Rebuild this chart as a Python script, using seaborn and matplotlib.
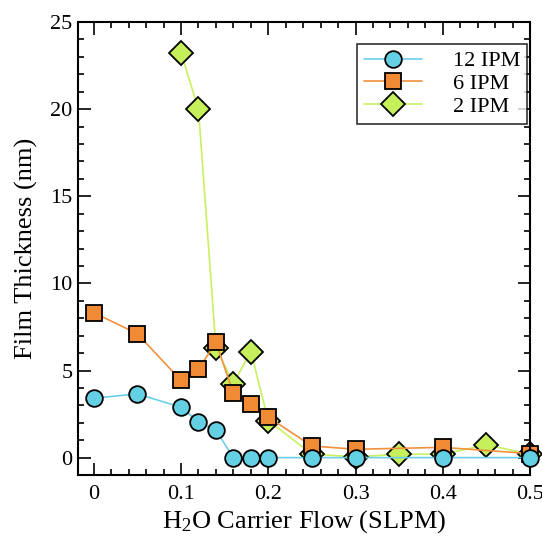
import matplotlib
matplotlib.use("Agg")
import matplotlib.pyplot as plt
from matplotlib.ticker import MultipleLocator
import seaborn as sns
import pandas as pd

# Film thickness vs. H2O carrier flow for three substrate speeds
flow_12 = [0.0, 0.05, 0.10, 0.12, 0.14, 0.16, 0.18, 0.20, 0.25, 0.30, 0.40, 0.50]
thick_12 = [3.41, 3.66, 2.89, 2.05, 1.57, 0.0, 0.0, 0.0, 0.0, 0.0, 0.0, 0.0]

flow_6 = [0.0, 0.05, 0.10, 0.12, 0.14, 0.16, 0.18, 0.20, 0.25, 0.30, 0.40, 0.50]
thick_6 = [8.32, 7.11, 4.43, 5.08, 6.61, 3.72, 3.05, 2.32, 0.67, 0.48, 0.59, 0.23]

flow_2 = [0.10, 0.12, 0.14, 0.16, 0.18, 0.20, 0.25, 0.30, 0.35, 0.40, 0.45, 0.50]
thick_2 = [23.24, 20.0, 6.32, 4.25, 6.09, 2.13, 0.20, 0.05, 0.19, 0.20, 0.73, 0.20]

labels = ["12 IPM", "6 IPM", "2 IPM"]

sns.set_theme(style="ticks")
plt.rcParams["font.family"] = ["Liberation Serif", "DejaVu Serif"]
plt.rcParams["mathtext.fontset"] = "custom"
plt.rcParams["mathtext.rm"] = "Liberation Serif"
plt.rcParams["mathtext.it"] = "Liberation Serif:italic"
for key in ["text.color", "axes.labelcolor", "xtick.color", "ytick.color"]:
    plt.rcParams[key] = "black"

fig = plt.figure(figsize=(5.42, 5.38), dpi=100)
ax = fig.add_axes([0.144, 0.117, 0.834, 0.842])

series = [
    (flow_2, thick_2, labels[2], "D", "#c8f060", "#c6ef5c", 12, 1),
    (flow_6, thick_6, labels[1], "s", "#f0913e", "#f08a34", 11.5, 2),
    (flow_12, thick_12, labels[0], "o", "#6ccfe6", "#64d0e4", 12, 3),
]
for x, y, lab, mk, lc, fc, ms, z in series:
    df = pd.DataFrame({"flow": x, "thickness": y})
    sns.lineplot(data=df, x="flow", y="thickness", ax=ax, label=lab,
                 color=lc, marker=mk, markersize=ms, markerfacecolor=fc,
                 markeredgecolor="black", markeredgewidth=1.3,
                 linewidth=1.2, zorder=z, clip_on=False)

ax.set_xlim(-0.018, 0.5)
ax.set_ylim(-1, 25)
ax.xaxis.set_minor_locator(MultipleLocator(0.02))
ax.yaxis.set_major_locator(MultipleLocator(5))
ax.yaxis.set_minor_locator(MultipleLocator(1))
ax.set_xticks([0, 0.1, 0.2, 0.3, 0.4, 0.5])
ax.set_xticklabels(["0", "0.1", "0.2", "0.3", "0.4", "0.5"])
ax.tick_params(which="both", direction="in", top=True, right=True,
               labelsize=16, color="black", width=1.2)
ax.tick_params(which="major", length=9)
ax.tick_params(which="minor", length=4.5)
ax.tick_params(axis="x", which="major", pad=7)
ax.tick_params(axis="y", which="major", pad=4)
for sp in ax.spines.values():
    sp.set_linewidth(1.5)
    sp.set_color("black")

ax.set_xlabel("H$_2$O Carrier Flow (SLPM)", fontsize=19, labelpad=3)
ax.set_ylabel("Film Thickness (nm)", fontsize=19, labelpad=9)

handles, labs = ax.get_legend_handles_labels()
order = [labs.index(l) for l in labels]
leg = ax.legend([handles[i] for i in order], [labs[i] for i in order],
                loc="upper right", bbox_to_anchor=(0.993, 0.951),
                borderaxespad=0, fontsize=16, frameon=True, fancybox=False,
                handlelength=2.6, handletextpad=1.4, borderpad=0.3,
                labelspacing=0.1)
leg.get_frame().set_edgecolor("black")
leg.get_frame().set_linewidth(1.2)

fig.savefig("out.png", dpi=100)
